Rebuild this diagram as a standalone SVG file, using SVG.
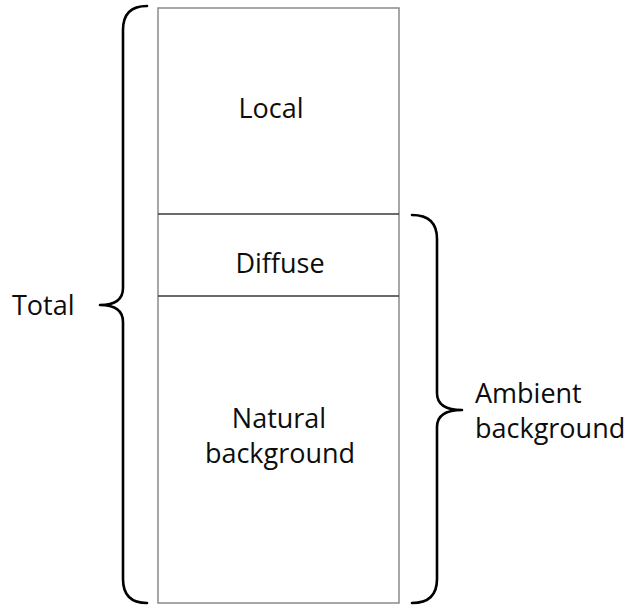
<svg xmlns="http://www.w3.org/2000/svg" width="629" height="605" viewBox="0 0 629 605">
  <style>
    .box { fill: #ffffff; stroke: #8a8a8a; stroke-width: 1.5; }
    .divider { stroke: #3a3a3a; stroke-width: 1.5; }
    .brace { fill: none; stroke: #000000; stroke-width: 2.6; stroke-linecap: round; stroke-linejoin: round; }
    .label { font-family: "Open Sans", "Noto Sans", "Liberation Sans", sans-serif; font-size: 27px; fill: #0d0d0d; }
    .mid { text-anchor: middle; }
  </style>
  <rect width="629" height="605" fill="#ffffff"/>

  <!-- stacked column -->
  <g id="column">
    <rect class="box" x="158" y="8" width="241" height="595"/>
    <line class="divider" x1="158" y1="214" x2="399" y2="214"/>
    <line class="divider" x1="158" y1="296" x2="399" y2="296"/>
  </g>

  <g id="local">
    <text class="label mid" x="271" y="118">Local</text>
  </g>
  <g id="diffuse">
    <text class="label mid" x="280" y="273">Diffuse</text>
  </g>
  <g id="natural">
    <text class="label mid" x="279" y="428">Natural</text>
    <text class="label mid" x="280" y="463">background</text>
  </g>

  <!-- braces -->
  <g id="braces">
    <path class="brace" d="M147,6 Q123,6 123,30 L123,288 Q123,305 100,305 Q123,305 123,322 L123,579 Q123,603 147,603"/>
    <path class="brace" d="M412,215 Q437,215 437,239 L437,393 Q437,410 462,410 Q437,410 437,427 L437,579 Q437,603 412,603"/>
  </g>

  <g id="total">
    <text class="label" x="12" y="315">Total</text>
  </g>
  <g id="ambient">
    <text class="label" x="475" y="403">Ambient</text>
    <text class="label" x="475" y="438">background</text>
  </g>
</svg>
